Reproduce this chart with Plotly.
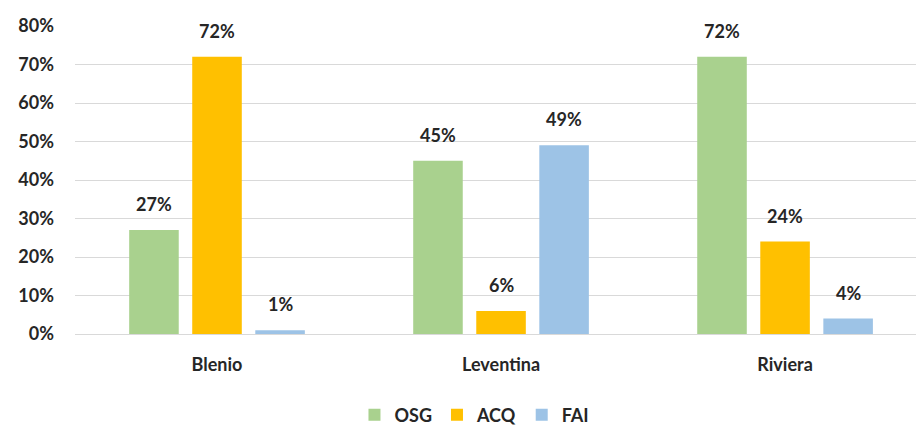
import plotly.graph_objects as go

categories = ["Blenio", "Leventina", "Riviera"]
series_names = ["OSG", "ACQ", "FAI"]
osg = [27, 45, 72]
acq = [72, 6, 24]
fai = [1, 49, 4]
colors = ["#A9D18E", "#FFC000", "#9DC3E6"]
y_ticks = [0, 10, 20, 30, 40, 50, 60, 70, 80]

font_family = "Lato, 'Open Sans', sans-serif"
text_color = "#262626"
slot_px = 63  # horizontal spacing of bars inside a group

fig = go.Figure()
annotations = []
all_series = [osg, acq, fai]
for i, (name, vals, col) in enumerate(zip(series_names, all_series, colors)):
    fig.add_trace(go.Bar(
        name=name, x=categories, y=[v / 100 for v in vals],
        marker=dict(color=col, line=dict(width=0)),
    ))
    for cat, v in zip(categories, vals):
        annotations.append(dict(
            x=cat, y=v / 100, xref="x", yref="y",
            text=f"{v}%", showarrow=False,
            xshift=(i - 1) * slot_px, yshift=26, yanchor="middle",
            font=dict(family=font_family, size=18, color=text_color, weight="bold"),
        ))

fig.update_layout(
    width=916, height=427,
    margin=dict(l=75, r=0, t=26, b=93, autoexpand=False),
    paper_bgcolor="white", plot_bgcolor="white",
    barmode="group", bargap=0.334, bargroupgap=0.214,
    font=dict(family=font_family, size=18, color=text_color),
    showlegend=True,
    legend=dict(orientation="h", x=0.475, xanchor="center", y=-0.263, yanchor="middle",
                font=dict(family=font_family, size=18, color=text_color, weight="bold"),
                itemwidth=30, traceorder="normal"),
    annotations=annotations,
)
fig.update_yaxes(
    range=[0, 0.8], tickvals=[t / 100 for t in y_ticks],
    ticktext=[f"{t}%" for t in y_ticks],
    showgrid=True, gridcolor="#D9D9D9", gridwidth=1,
    zeroline=False, showline=False, ticks="", ticklabelstandoff=20,
    tickfont=dict(family=font_family, size=18, color=text_color, weight="bold"),
)
fig.update_xaxes(
    range=[-0.5, 2.461],
    showline=True, linecolor="#D9D9D9", linewidth=1,
    ticks="", showgrid=False, ticklabelstandoff=14,
    tickfont=dict(family=font_family, size=18, color=text_color, weight="bold"),
)
fig.write_html("out.html")
